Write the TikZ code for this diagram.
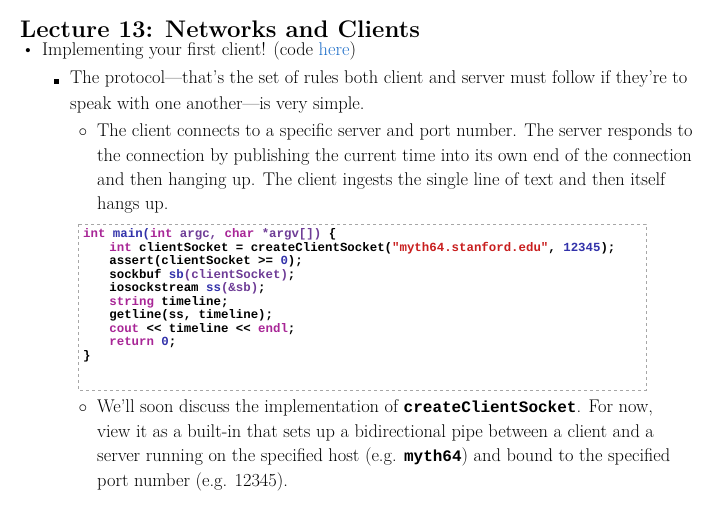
\documentclass[tikz,border=0pt]{standalone}
\usepackage{fontspec}
\setmonofont{Liberation Mono}
\usetikzlibrary{positioning}
\definecolor{kwcol}{RGB}{168,38,150}
\definecolor{fncol}{RGB}{50,50,170}
\definecolor{argcol}{RGB}{110,60,150}
\definecolor{strcol}{RGB}{200,30,30}
\definecolor{linkcol}{RGB}{30,110,200}
\newcommand{\kw}[1]{\textcolor{kwcol}{#1}}
\newcommand{\fn}[1]{\textcolor{fncol}{#1}}
\newcommand{\ar}[1]{\textcolor{argcol}{#1}}
\newcommand{\str}[1]{\textcolor{strcol}{#1}}
\newcommand{\ind}{\hspace*{4ex}}
\newcommand{\icode}[1]{{\fontsize{16}{20}\selectfont\ttfamily\bfseries #1}}
\tikzset{
  body/.style={anchor=base west,inner sep=0pt,font=\fontsize{18.4}{22}\selectfont},
  title/.style={anchor=base west,inner sep=0pt,font=\fontsize{24}{28}\selectfont\bfseries},
  codeline/.style={anchor=base west,inner sep=0pt,font=\fontsize{12.4}{13}\selectfont\ttfamily\bfseries},
  bulletmark/.style={anchor=base,inner sep=0pt,font=\fontsize{18.4}{22}\selectfont},
}
\begin{document}
\begin{tikzpicture}[x=1pt,y=-1pt]
\useasboundingbox (0,0) rectangle (720,526);
\node[title] (ttl) at (20,38) {Lecture 13: Networks and Clients};
% level 1
\node[bulletmark] (b1) at (28,56) {\textbullet};
\node[body] (l1) at (42,56) {Implementing your first client! (code \textcolor{linkcol}{here})};
% level 2
\node[bulletmark] (b2) at (56,84) {\rule{5pt}{5pt}};
\node[body] (l2a) at (70,84) {The protocol---that's the set of rules both client and server must follow if they're to};
\node[body] (l2b) at (70,110) {speak with one another---is very simple.};
% level 3
\node[bulletmark] (b3) at (83,137) {$\circ$};
\node[body] (l3a) at (97,137) {The client connects to a specific server and port number. The server responds to};
\node[body] (l3b) at (97,162) {the connection by publishing the current time into its own end of the connection};
\node[body] (l3c) at (97,186) {and then hanging up. The client ingests the single line of text and then itself};
\node[body] (l3d) at (97,210) {hangs up.};
% code box
\draw[gray!70,dashed,line width=0.5pt] (78,224) rectangle (646,390);
\node[codeline] (c1) at (83,238) {\kw{int} \fn{main(}\kw{int} \ar{argc,} \kw{char} \ar{*argv[])} \{};
\node[codeline] (c2) at (83,251.5) {\ind\kw{int} clientSocket = createClientSocket(\str{"myth64.stanford.edu"}, \fn{12345});};
\node[codeline] (c3) at (83,265) {\ind assert(clientSocket >= \fn{0});};
\node[codeline] (c4) at (83,278.5) {\ind sockbuf \fn{sb}\ar{(clientSocket)};};
\node[codeline] (c5) at (83,292) {\ind iosockstream \fn{ss}\ar{(\&sb)};};
\node[codeline] (c6) at (83,305.5) {\ind\kw{string} timeline;};
\node[codeline] (c7) at (83,319) {\ind getline(ss, timeline);};
\node[codeline] (c8) at (83,332.5) {\ind\kw{cout} << timeline << \kw{endl};};
\node[codeline] (c9) at (83,346) {\ind\kw{return} \fn{0};};
\node[codeline] (c10) at (83,359.5) {\}};
% level 3 again
\node[bulletmark] (b4) at (83,412) {$\circ$};
\node[body] (l4a) at (97,412) {We'll soon discuss the implementation of \icode{createClientSocket}. For now,};
\node[body] (l4b) at (97,437) {view it as a built-in that sets up a bidirectional pipe between a client and a};
\node[body] (l4c) at (97,461) {server running on the specified host (e.g. \icode{myth64}) and bound to the specified};
\node[body] (l4d) at (97,486) {port number (e.g. 12345).};
\end{tikzpicture}
\end{document}
